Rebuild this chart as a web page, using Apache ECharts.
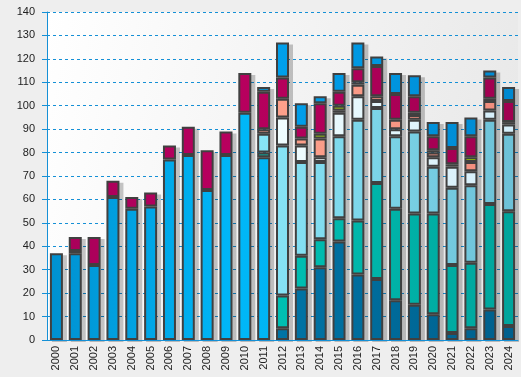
<!DOCTYPE html>
<html>
<head>
<meta charset="utf-8">
<script src="https://cdn.jsdelivr.net/npm/echarts@6/dist/echarts.min.js"></script>
<style>
  html, body { margin: 0; padding: 0; background: #eeeeee; }
  #main { width: 521px; height: 377px; }
</style>
</head>
<body>
<div id="main"></div>
<script>
// categories and tick values
var years = ['2000', '2001', '2002', '2003', '2004', '2005', '2006', '2007', '2008', '2009', '2010', '2011', '2012',
    '2013', '2014', '2015', '2016', '2017', '2018', '2019', '2020', '2021', '2022', '2023', '2024'];
var yTicks = [0, 140, 10]; // min, max, step

// series values, bottom to top of the stack
var seriesBase    = [37, 37, 32, 61, 56, 57, 77, 79, 64, 79, 97, 78, 0, 0, 0, 0, 0, 0, 0, 0, 0, 0, 0, 0, 0];
var seriesDark    = [0, 0, 0, 0, 0, 0, 0, 0, 0, 0, 0, 0, 5, 22, 31, 42, 28, 26, 17, 15, 11, 3, 5, 13, 6];
var seriesTeal    = [0, 0, 0, 0, 0, 0, 0, 0, 0, 0, 0, 2, 14, 14, 12, 10, 23, 41, 39, 39, 43, 29, 28, 45, 49];
var seriesCyan    = [0, 0, 0, 0, 0, 0, 0, 0, 0, 0, 0, 8, 64, 40, 33, 35, 43, 32, 31, 35, 20, 33, 33, 36, 33];
var seriesWhite   = [0, 0, 0, 0, 0, 0, 0, 0, 0, 0, 0, 0, 12, 7, 2, 10, 10, 3, 3, 5, 4, 9, 6, 4, 4];
var seriesSalmon  = [0, 1, 0, 0, 0, 0, 0, 0, 0, 0, 0, 2, 8, 3, 8, 1, 5, 2, 4, 2, 2, 1, 4, 4, 1];
var seriesGreen   = [0, 0, 0, 0, 0, 0, 0, 0, 0, 0, 0, 0, 0, 0, 2, 2, 1, 0, 0, 1, 1, 0, 2, 1, 0];
var seriesCrimson = [0, 6, 12, 7, 5, 6, 6, 12, 17, 10, 17, 16, 9, 5, 13, 6, 6, 13, 11, 7, 6, 7, 9, 9, 9];
var seriesBlue    = [0, 0, 0, 0, 0, 0, 0, 0, 0, 0, 0, 2, 15, 10, 3, 8, 11, 4, 9, 9, 6, 11, 8, 3, 6];

var stack = [
    {name: 'A', data: seriesBase,    colors: ['#0090d0', '#00b8f8', '#00a0e0']},
    {name: 'B', data: seriesDark,    colors: ['#0070a0', '#0078aa', '#005f8c']},
    {name: 'C', data: seriesTeal,    colors: ['#00b8b0', '#00c4b6', '#00a49c']},
    {name: 'D', data: seriesCyan,    colors: ['#80e0f0', '#8ae8fa', '#6cc0d6']},
    {name: 'E', data: seriesWhite,   colors: ['#f0ffff', '#f4ffff', '#d4eefa']},
    {name: 'F', data: seriesSalmon,  colors: ['#ffa090', '#ffa48e', '#f08c7c']},
    {name: 'G', data: seriesGreen,   colors: ['#b0e010', '#b4e410', '#98cc00']},
    {name: 'H', data: seriesCrimson, colors: ['#a8005a', '#b8005e', '#a00050']},
    {name: 'I', data: seriesBlue,    colors: ['#0098e0', '#00a4f0', '#0088d0']}
];

// column totals, used for the drop shadow behind each column
var totals = years.map(function (y, i) {
    return stack.reduce(function (acc, s) { return acc + s.data[i]; }, 0);
});

var gridLeft = 47, gridRight = 3, gridTop = 12, gridBottom = 37;
var shadowDx = 3, shadowDy = 2;

function sweep(c) {
    // horizontal shade across the whole plot
    return {
        type: 'linear', x: gridLeft, y: 0, x2: 521 - gridRight, y2: 0, global: true,
        colorStops: [{offset: 0, color: c[0]}, {offset: 0.4, color: c[1]}, {offset: 1, color: c[2]}]
    };
}

var blue = '#1590d6';

var myChart = echarts.init(document.getElementById('main'));

var bars = stack.map(function (s) {
    return {
        name: s.name,
        type: 'bar',
        stack: 'total',
        barWidth: 13,
        z: 3,
        data: s.data.map(function (v) { return v === 0 ? '-' : v; }),
        itemStyle: {
            color: sweep(s.colors),
            borderColor: '#404040',
            borderWidth: 2
        }
    };
});

// shadow column, drawn on a twin grid shifted right and down
bars.unshift({
    name: 'shadow',
    type: 'bar',
    xAxisIndex: 1,
    yAxisIndex: 1,
    barWidth: 15,
    z: 1,
    silent: true,
    data: totals,
    itemStyle: {color: 'rgba(0,0,0,0.22)'}
});

var option = {
    backgroundColor: '#eeeeee',
    animation: false,
    grid: [{
        left: gridLeft, right: gridRight, top: gridTop, bottom: gridBottom,
        show: true, borderWidth: 0,
        backgroundColor: {
            type: 'linear', x: 0, y: 0, x2: 1, y2: 0.3,
            colorStops: [{offset: 0, color: '#ffffff'}, {offset: 1, color: '#e9e9e9'}]
        }
    }, {
        left: gridLeft + shadowDx, right: gridRight - shadowDx,
        top: gridTop + shadowDy, bottom: gridBottom - shadowDy
    }],
    xAxis: [{
        type: 'category',
        data: years,
        z: 4,
        axisLine: {lineStyle: {color: blue, width: 1}},
        axisTick: {length: 4, lineStyle: {color: blue}},
        axisLabel: {rotate: 90, margin: 6, color: '#222', fontSize: 11, fontFamily: 'Liberation Sans'}
    }, {
        type: 'category', gridIndex: 1, data: years, show: false
    }],
    yAxis: [{
        type: 'value',
        min: yTicks[0], max: yTicks[1], interval: yTicks[2],
        axisLine: {show: true, lineStyle: {color: blue, width: 1}},
        axisTick: {show: true, length: 5, lineStyle: {color: blue}},
        axisLabel: {margin: 12, color: '#222', fontSize: 11, fontFamily: 'Liberation Sans'},
        splitLine: {lineStyle: {color: blue, type: [3, 3], width: 1}}
    }, {
        type: 'value', gridIndex: 1, min: yTicks[0], max: yTicks[1], show: false
    }],
    series: bars
};

myChart.setOption(option);
</script>
</body>
</html>
